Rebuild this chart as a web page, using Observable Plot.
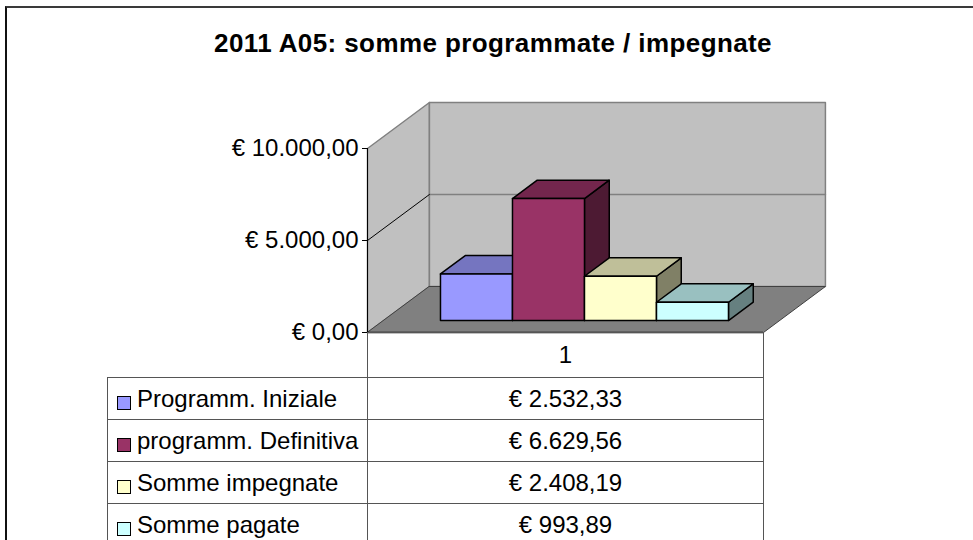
<!DOCTYPE html>
<html>
<head>
<meta charset="utf-8">
<script src="https://cdn.jsdelivr.net/npm/d3@7"></script>
<script src="https://cdn.jsdelivr.net/npm/@observablehq/plot@0.6"></script>
<style>
  body { margin: 0; background: #fff; }
  #wrap { position: relative; width: 973px; height: 540px; overflow: hidden; font-family: "Liberation Sans", Arial, sans-serif; color: #000; }
  #border { position: absolute; left: 5px; top: 6px; width: 1200px; height: 800px; border-top: 2px solid #3a3a3a; border-left: 2px solid #111; }
  #title { position: absolute; left: 0; width: 986px; top: 28px; line-height: 30px; text-align: center; font-weight: bold; font-size: 26px; letter-spacing: 0.4px; }
  #chart { position: absolute; left: 0; top: 0; }
  #tbl { position: absolute; left: 107px; top: 332px; border-collapse: collapse; font-size: 24px; }
  #tbl td { border: 1px solid #555; padding: 0; }
  #tbl td.lab { width: 259px; text-align: left; white-space: nowrap; }
  #tbl td.val { width: 395px; text-align: center; }
  #tbl tr.head td { height: 44px; }
  #tbl tr.head td.empty { border: none; }
  #tbl tr.row td { height: 41px; }
  .key { display: inline-block; width: 12px; height: 12px; border: 1px solid #000; margin: 0 6px 0 9px; vertical-align: -3px; }
</style>
</head>
<body>
<div id="wrap">
  <div id="border"></div>
  <div id="chart"></div>
  <div id="title"></div>
  <table id="tbl"></table>
</div>
<script>
// ---- data ----
const titleText = "2011 A05: somme programmate / impegnate";
const categories = ["Programm. Iniziale", "programm. Definitiva", "Somme impegnate", "Somme pagate"];
const values = [2532.33, 6629.56, 2408.19, 993.89];
const frontColors = ["#9999FF", "#993366", "#FFFFCC", "#CCFFFF"];
const topColors = ["#7575C0", "#73264D", "#BFBF99", "#99C0C0"];
const sideColors = ["#4D4D80", "#4D1A33", "#808066", "#668080"];
const yTicks = [0, 5000, 10000];
const seriesLabel = "1";

// ---- formatting ----
const locale = d3.formatLocale({decimal: ",", thousands: ".", grouping: [3], currency: ["€ ", ""]});
const euro = locale.format("$,.2f");

// ---- 3D geometry (in data units) ----
const N = values.length;
const xMax = N + 1.5;
const gapLeft = 0.79;
const yMax = d3.max(yTicks);
const depthX = 0.86, depthY = 2500;
const fD = 0.26, bD = 0.66;

function poly(id, pts, fill) { return pts.map(([x, y]) => ({id, x, y, fill})); }

const walls = [
  ...poly("side", [[0, 0], [0, yMax], [depthX, yMax + depthY], [depthX, depthY]], "#C0C0C0"),
  ...poly("back", [[depthX, depthY], [xMax + depthX, depthY], [xMax + depthX, yMax + depthY], [depthX, yMax + depthY]], "#C0C0C0")
];
const floor = poly("floor", [[0, 0], [xMax, 0], [xMax + depthX, depthY], [depthX, depthY]], "#808080");

const gridBack = yTicks.filter(t => t > 0 && t < yMax).flatMap(t => [
  {id: "b" + t, x: depthX, y: t + depthY}, {id: "b" + t, x: xMax + depthX, y: t + depthY}
]);
const gridSide = yTicks.filter(t => t > 0 && t < yMax).flatMap(t => [
  {id: "s" + t, x: 0, y: t}, {id: "s" + t, x: depthX, y: t + depthY}
]);

const bars = values.flatMap((v, i) => {
  const x1 = gapLeft + i, x2 = gapLeft + i + 1;
  const fx = fD * depthX, fy = fD * depthY, bx = bD * depthX, by = bD * depthY;
  return [
    ...poly("side" + i, [[x2 + fx, fy], [x2 + bx, by], [x2 + bx, v + by], [x2 + fx, v + fy]], sideColors[i]),
    ...poly("top" + i, [[x1 + fx, v + fy], [x2 + fx, v + fy], [x2 + bx, v + by], [x1 + bx, v + by]], topColors[i]),
    ...poly("front" + i, [[x1 + fx, fy], [x2 + fx, fy], [x2 + fx, v + fy], [x1 + fx, v + fy]], frontColors[i])
  ];
});

const chart = Plot.plot({
  width: 973,
  height: 540,
  marginLeft: 367,
  marginRight: 210,
  marginTop: 148,
  marginBottom: 208,
  style: {fontFamily: "Liberation Sans, Arial, sans-serif", fontSize: "24px", color: "#000", background: "transparent"},
  x: {domain: [0, xMax], axis: null},
  y: {domain: [0, yMax]},
  color: {type: "identity"},
  marks: [
    Plot.line(walls, {x: "x", y: "y", z: "id", fill: "fill", stroke: "#808080", strokeWidth: 1.5, curve: "linear-closed"}),
    Plot.line(floor, {x: "x", y: "y", z: "id", fill: "fill", stroke: "#404040", strokeWidth: 1, curve: "linear-closed"}),
    Plot.line(gridBack, {x: "x", y: "y", z: "id", stroke: "#808080", strokeWidth: 1.5}),
    Plot.line(gridSide, {x: "x", y: "y", z: "id", stroke: "#000", strokeWidth: 1}),
    Plot.line(bars, {x: "x", y: "y", z: "id", fill: "fill", stroke: "#000", strokeWidth: 1.5, curve: "linear-closed"}),
    Plot.ruleY([0], {x1: 0, x2: xMax, stroke: "#000", strokeWidth: 1.5}),
    Plot.ruleX([0], {y1: 0, y2: yMax, stroke: "#000", strokeWidth: 1}),
    Plot.axisY(yTicks, {tickFormat: euro, tickSize: 5, tickPadding: 4, label: null, stroke: "#000", fontSize: 24})
  ]
});
document.getElementById("chart").appendChild(chart);

document.getElementById("title").textContent = titleText;

// ---- data table ----
const tbl = document.getElementById("tbl");
const head = document.createElement("tr");
head.className = "head";
head.innerHTML = `<td class="lab empty"></td><td class="val">${seriesLabel}</td>`;
tbl.appendChild(head);
categories.forEach((c, i) => {
  const tr = document.createElement("tr");
  tr.className = "row";
  const lab = document.createElement("td");
  lab.className = "lab";
  const key = document.createElement("span");
  key.className = "key";
  key.style.background = frontColors[i];
  lab.appendChild(key);
  lab.appendChild(document.createTextNode(c));
  const val = document.createElement("td");
  val.className = "val";
  val.textContent = euro(values[i]);
  tr.appendChild(lab);
  tr.appendChild(val);
  tbl.appendChild(tr);
});
</script>
</body>
</html>
